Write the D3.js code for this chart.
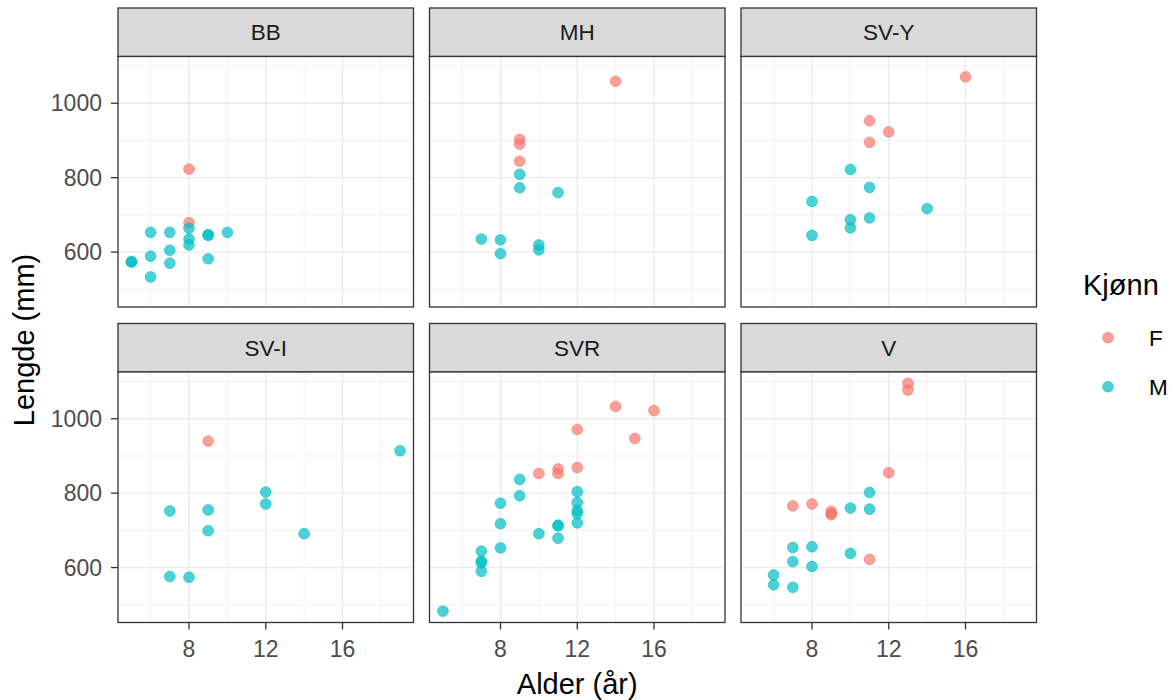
<!DOCTYPE html>
<html>
<head>
<meta charset="utf-8">
<script src="https://cdn.jsdelivr.net/npm/d3@7"></script>
<style>
  html, body { margin: 0; padding: 0; background: #fff; }
  svg { display: block; font-family: "Liberation Sans", Arial, sans-serif; }
</style>
</head>
<body>
<svg id="chart" width="1175" height="700"></svg>
<script>
// Facet order (row-wise, 3 columns)
const facets = ["BB", "MH", "SV-Y", "SV-I", "SVR", "V"];

// Observations: facet, age (years), length (mm), sex
const gruppe = [
  "BB","BB",
  "BB","BB","BB","BB","BB","BB","BB","BB","BB","BB","BB","BB","BB","BB","BB",
  "MH","MH","MH","MH",
  "MH","MH","MH","MH","MH","MH","MH","MH",
  "SV-Y","SV-Y","SV-Y","SV-Y",
  "SV-Y","SV-Y","SV-Y","SV-Y","SV-Y","SV-Y","SV-Y","SV-Y",
  "SV-I",
  "SV-I","SV-I","SV-I","SV-I","SV-I","SV-I","SV-I","SV-I","SV-I",
  "SVR","SVR","SVR","SVR","SVR","SVR","SVR","SVR",
  "SVR","SVR","SVR","SVR","SVR","SVR","SVR","SVR","SVR","SVR","SVR","SVR","SVR","SVR","SVR","SVR","SVR","SVR","SVR",
  "V","V","V","V","V","V","V","V","V",
  "V","V","V","V","V","V","V","V","V","V","V"
];
const alder = [
  8, 8,
  6, 7, 8, 8, 8, 9, 9, 10, 7, 6, 5, 5, 7, 9, 6,
  14, 9, 9, 9,
  9, 9, 11, 7, 8, 8, 10, 10,
  16, 11, 12, 11,
  10, 11, 8, 14, 11, 10, 10, 8,
  9,
  19, 12, 12, 7, 9, 9, 14, 7, 8,
  14, 16, 12, 15, 12, 11, 11, 10,
  9, 9, 8, 12, 12, 12, 12, 12, 11, 11, 10, 11, 8, 8, 7, 7, 7, 7, 5,
  13, 13, 12, 7, 8, 9, 9, 9, 11,
  11, 10, 11, 7, 8, 10, 7, 8, 6, 6, 7
];
const lengde = [
  823, 679,
  653, 653, 664, 635, 619, 645, 647, 653, 605, 589, 573, 575, 570, 582, 533,
  1059, 903, 890, 844,
  809, 773, 760, 635, 633, 596, 619, 606,
  1071, 953, 923, 895,
  822, 774, 736, 717, 692, 687, 665, 645,
  940,
  914, 803, 771, 752, 755, 699, 691, 576, 574,
  1033, 1022, 971, 947, 869, 865, 853, 853,
  837, 793, 773, 804, 775, 753, 745, 720, 714, 712, 691, 679, 718, 653, 644, 617, 613, 590, 483,
  1095, 1077, 855, 766, 771, 751, 745, 742, 622,
  802, 760, 757, 654, 656, 638, 616, 603, 580, 554, 547
];
const kjonn = [
  "F","F",
  "M","M","M","M","M","M","M","M","M","M","M","M","M","M","M",
  "F","F","F","F",
  "M","M","M","M","M","M","M","M",
  "F","F","F","F",
  "M","M","M","M","M","M","M","M",
  "F",
  "M","M","M","M","M","M","M","M","M",
  "F","F","F","F","F","F","F","F",
  "M","M","M","M","M","M","M","M","M","M","M","M","M","M","M","M","M","M","M",
  "F","F","F","F","F","F","F","F","F",
  "M","M","M","M","M","M","M","M","M","M","M"
];

const xTicks = [8, 12, 16];
const xMinor = [6, 10, 14, 18];
const yTicks = [600, 800, 1000];
const yMinor = [500, 700, 900, 1100];

const sexLevels = ["F", "M"];
const sexColors = ["#F8766D", "#00BFC4"];

const data = gruppe.map((g, i) => ({ g, x: alder[i], y: lengde[i], s: kjonn[i] }));

// Layout
const panelW = 295.5, panelH = 250.5, stripH = 48.5;
const colX = [118, 429.5, 741];
const rowY = [8, 323.5]; // strip tops
const tickLen = 7;

const svg = d3.select("#chart");

// Shared scales with 5% padding on the data range
function padded(ext) {
  const d = (ext[1] - ext[0]) * 0.05;
  return [ext[0] - d, ext[1] + d];
}
const x = d3.scaleLinear().domain(padded(d3.extent(alder))).range([0, panelW]);
const y = d3.scaleLinear().domain(padded(d3.extent(lengde))).range([panelH, 0]);
const color = d3.scaleOrdinal().domain(sexLevels).range(sexColors);

facets.forEach((name, k) => {
  const col = k % 3, row = Math.floor(k / 3);
  const px = colX[col], stripTop = rowY[row], py = stripTop + stripH;

  // Strip
  const strip = svg.append("g").attr("transform", `translate(${px},${stripTop})`);
  strip.append("rect").attr("width", panelW).attr("height", stripH)
    .attr("fill", "#D9D9D9").attr("stroke", "#333333").attr("stroke-width", 1.3);
  strip.append("text").attr("x", panelW / 2).attr("y", stripH / 2 + 8.2)
    .attr("text-anchor", "middle").attr("font-size", 22.5).attr("fill", "#1A1A1A")
    .text(name);

  const g = svg.append("g").attr("transform", `translate(${px},${py})`);
  g.append("rect").attr("width", panelW).attr("height", panelH).attr("fill", "#fff");

  // Grid
  g.selectAll(".gxm").data(xMinor).join("line")
    .attr("x1", d => x(d)).attr("x2", d => x(d)).attr("y1", 0).attr("y2", panelH)
    .attr("stroke", "#EBEBEB").attr("stroke-width", 0.7);
  g.selectAll(".gym").data(yMinor).join("line")
    .attr("y1", d => y(d)).attr("y2", d => y(d)).attr("x1", 0).attr("x2", panelW)
    .attr("stroke", "#EBEBEB").attr("stroke-width", 0.7);
  g.selectAll(".gx").data(xTicks).join("line")
    .attr("x1", d => x(d)).attr("x2", d => x(d)).attr("y1", 0).attr("y2", panelH)
    .attr("stroke", "#EBEBEB").attr("stroke-width", 1.4);
  g.selectAll(".gy").data(yTicks).join("line")
    .attr("y1", d => y(d)).attr("y2", d => y(d)).attr("x1", 0).attr("x2", panelW)
    .attr("stroke", "#EBEBEB").attr("stroke-width", 1.4);

  // Points
  const pts = data.filter(d => d.g === name);
  g.selectAll("circle.pt").data(pts).join("circle")
    .attr("class", "pt")
    .attr("cx", d => x(d.x)).attr("cy", d => y(d.y)).attr("r", 5.4)
    .attr("fill", d => color(d.s)).attr("fill-opacity", 0.7)
    .attr("stroke", d => color(d.s)).attr("stroke-opacity", 0.7).attr("stroke-width", 0.8);

  // Border
  g.append("rect").attr("width", panelW).attr("height", panelH)
    .attr("fill", "none").attr("stroke", "#333333").attr("stroke-width", 1.3);

  // Y axis on the left column
  if (col === 0) {
    const ya = g.append("g");
    ya.selectAll("line").data(yTicks).join("line")
      .attr("x1", -tickLen).attr("x2", 0).attr("y1", d => y(d)).attr("y2", d => y(d))
      .attr("stroke", "#333333").attr("stroke-width", 1.3);
    ya.selectAll("text").data(yTicks).join("text")
      .attr("x", -16).attr("y", d => y(d) + 8.2)
      .attr("text-anchor", "end").attr("font-size", 23).attr("fill", "#4D4D4D")
      .text(d => d);
  }
  // X axis on the bottom row
  if (row === 1) {
    const xa = g.append("g").attr("transform", `translate(0,${panelH})`);
    xa.selectAll("line").data(xTicks).join("line")
      .attr("x1", d => x(d)).attr("x2", d => x(d)).attr("y1", 0).attr("y2", tickLen)
      .attr("stroke", "#333333").attr("stroke-width", 1.3);
    xa.selectAll("text").data(xTicks).join("text")
      .attr("x", d => x(d)).attr("y", 34.5)
      .attr("text-anchor", "middle").attr("font-size", 23).attr("fill", "#4D4D4D")
      .text(d => d);
  }
});

// Axis titles
svg.append("text")
  .attr("x", colX[1] + panelW / 2).attr("y", 694)
  .attr("text-anchor", "middle").attr("font-size", 29).attr("fill", "#000")
  .text("Alder (år)");
svg.append("text")
  .attr("transform", "translate(33.5,340) rotate(-90)")
  .attr("text-anchor", "middle").attr("font-size", 29).attr("fill", "#000")
  .text("Lengde (mm)");

// Legend
const leg = svg.append("g");
leg.append("text").attr("x", 1083).attr("y", 295)
  .attr("font-size", 29).attr("fill", "#000").text("Kjønn");
sexLevels.forEach((s, i) => {
  const cy = 337.7 + i * 49;
  leg.append("circle").attr("cx", 1108).attr("cy", cy).attr("r", 5.4)
    .attr("fill", color(s)).attr("fill-opacity", 0.7)
    .attr("stroke", color(s)).attr("stroke-opacity", 0.7).attr("stroke-width", 0.8);
  leg.append("text").attr("x", 1149).attr("y", cy + 8.5)
    .attr("font-size", 22.5).attr("fill", "#000").text(s);
});
</script>
</body>
</html>
